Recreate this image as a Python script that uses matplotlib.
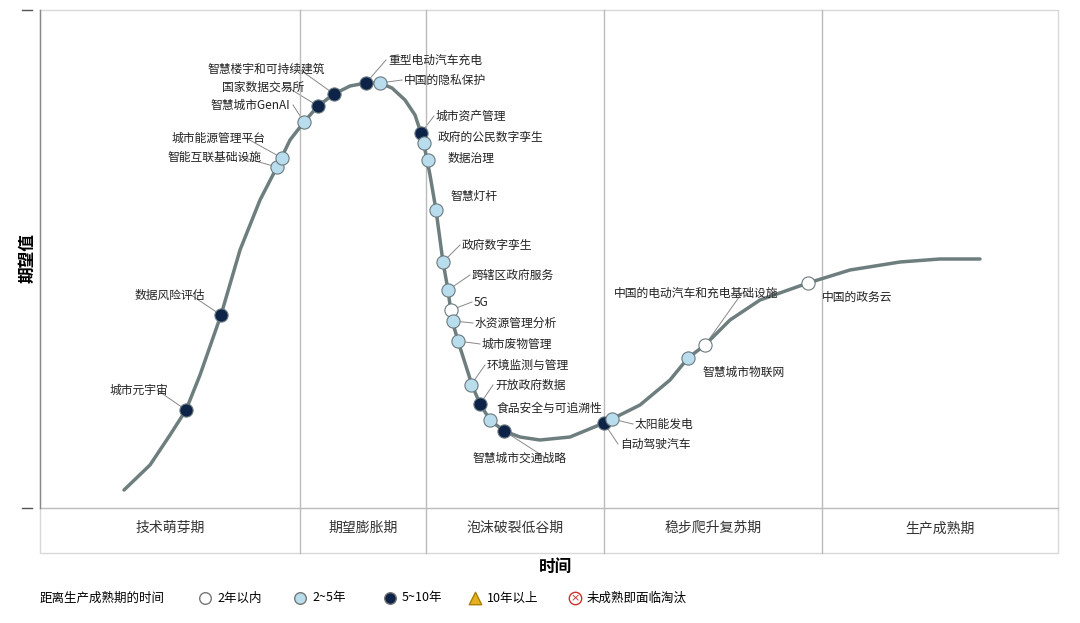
import matplotlib
matplotlib.use("Agg")
import matplotlib.pyplot as plt

plt.rcParams['font.family'] = ['Noto Sans CJK SC', 'DejaVu Sans']

curve_x = [124,150,170,186,200,221,240,260,277,290,304,318,334,350,366,380,392,405,415,421,425,430,436,443,448,452,458,465,472,480,490,504,520,540,570,604,612,640,670,688,705,730,760,808,850,900,940,980]
curve_y = [490,465,435,410,375,315,250,200,167,140,122,106,94,86,83,83,88,100,115,133,150,175,210,262,290,320,341,363,385,404,420,431,437,440,437,423,419,405,380,358,345,320,300,283,270,262,259,259]

labels = ["城市元宇宙","数据风险评估","智能互联基础设施","城市能源管理平台","智慧城市GenAI","国家数据交易所",
          "智慧楼宇和可持续建筑","重型电动汽车充电","中国的隐私保护","城市资产管理","政府的公民数字孪生","数据治理",
          "智慧灯杆","政府数字孪生","跨辖区政府服务","5G","水资源管理分析","城市废物管理","环境监测与管理",
          "开放政府数据","食品安全与可追溯性","智慧城市交通战略","自动驾驶汽车","太阳能发电","智慧城市物联网",
          "中国的电动汽车和充电基础设施","中国的政务云"]
pt_x = [186,221,277,282,304,318,334,366,380,421,424,428,436,443,448,451,453,458,471,480,490,504,604,612,688,705,808]
pt_y = [410,315,167,158,122,106,94,83,83,133,143,160,210,262,290,310,321,341,385,404,420,431,423,419,358,345,283]
cat  = ["d","d","l","l","l","d","d","d","l","d","l","l","l","l","l","w","l","l","l","d","l","d","d","l","l","w","w"]
lab_x = [110,135,167,172,210,222,207,388,404,436,438,448,450,462,472,474,475,482,487,495,497,472,620,635,702,614,822]
lab_y = [390,295,157,138,105,87,69,60,80,116,137,158,196,245,275,302,323,344,365,385,408,458,444,424,372,293,297]

phases = ["技术萌芽期","期望膨胀期","泡沫破裂低谷期","稳步爬升复苏期","生产成熟期"]
phase_edges = [40,300,426,604,822,1058]
legend_items = ["2年以内","2~5年","5~10年","10年以上","未成熟即面临淘汰"]

colors = {"d": "#0d2347", "l": "#b9dded", "w": "#ffffff"}

fig = plt.figure(figsize=(10.8, 6.23), dpi=100)
ax = fig.add_axes([0, 0, 1, 1])
ax.set_xlim(0, 1080); ax.set_ylim(623, 0); ax.axis('off')

# frame
ax.plot([40,1058,1058,40,40],[10,10,553,553,10], color="#d8d8d8", lw=1)
ax.plot([40,1058],[508,508], color="#bbbbbb", lw=1)
for e in phase_edges[1:-1]:
    ax.plot([e,e],[10,553], color="#bbbbbb", lw=1)
ax.plot([40,40],[10,508], color="#888888", lw=1)
for yy in (10,508):
    ax.plot([22,32],[yy,yy], color="#555555", lw=1)
for i, p in enumerate(phases):
    ax.text((phase_edges[i]+phase_edges[i+1])/2, 528, p, ha="center", va="center", fontsize=10, color="#333333")
ax.text(28, 258, "期望值", rotation=90, ha="center", va="center", fontsize=12, fontweight="bold")
ax.text(556, 567, "时间", ha="center", va="center", fontsize=12, fontweight="bold")

ax.plot(curve_x, curve_y, color="#6e7e7e", lw=2.5, zorder=2, solid_capstyle="round")

for l, x, y, c, lx, ly in zip(labels, pt_x, pt_y, cat, lab_x, lab_y):
    ax.scatter([x],[y], s=90, color=colors[c], edgecolor="#6a7a80", linewidth=0.8, zorder=3)
    ax.text(lx, ly, l, ha="left", va="center", fontsize=8.5, color="#222222", zorder=4)
    if abs(lx - x) > 20 or abs(ly - y) > 14:
        if lx < x:
            tx = lx + len(l)*9 + 2
            ax.plot([tx, x], [ly, y], color="#888888", lw=0.7, zorder=1)
        else:
            ax.plot([lx-2, x], [ly, y], color="#888888", lw=0.7, zorder=1)

# legend
ax.text(40, 598, "距离生产成熟期的时间", ha="left", va="center", fontsize=9)
lx = [205, 300, 390, 475, 575]
ax.scatter([lx[0]],[598], s=70, color="white", edgecolor="#777777")
ax.scatter([lx[1]],[598], s=70, color=colors["l"], edgecolor="#777777")
ax.scatter([lx[2]],[598], s=70, color=colors["d"], edgecolor="#777777")
ax.scatter([lx[3]],[598], s=80, marker="^", color="#e8b020", edgecolor="#aa8000")
ax.scatter([lx[4]],[598], s=80, color="white", edgecolor="#d03030")
ax.text(lx[4], 598, "×", ha="center", va="center", fontsize=8, color="#d03030", family=["DejaVu Sans"])
for x, t in zip(lx, legend_items):
    ax.text(x+12, 598, t, ha="left", va="center", fontsize=9)

fig.savefig("out.png", dpi=100)
